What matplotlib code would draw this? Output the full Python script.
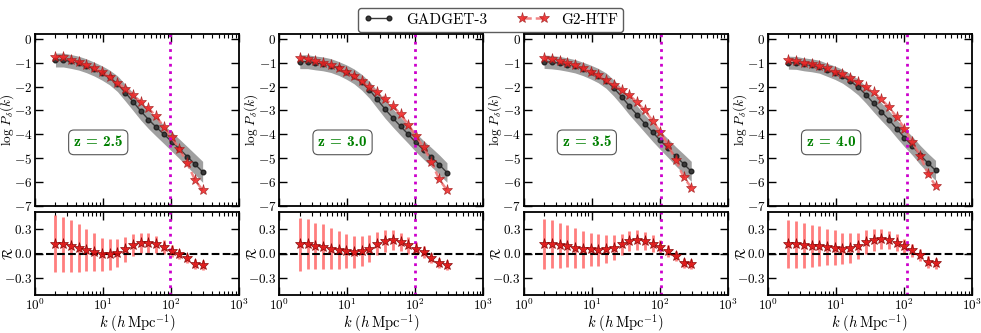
import matplotlib
matplotlib.use("Agg")
import matplotlib.pyplot as plt
from matplotlib.ticker import FuncFormatter, MultipleLocator

plt.rcParams['font.family'] = 'cmr10'
plt.rcParams['mathtext.fontset'] = 'cm'
plt.rcParams['axes.formatter.use_mathtext'] = True
plt.rcParams['axes.unicode_minus'] = True

# k bins (h/Mpc)
k = [2.0, 2.6, 3.38, 4.39, 5.71, 7.43, 9.65, 12.5, 16.3, 21.2,
     27.6, 35.8, 46.6, 60.6, 78.8, 102, 133, 173, 225, 292]

redshifts = ["2.5", "3.0", "3.5", "4.0"]
k_cut = [96, 100, 105, 110]

# log P(k), GADGET-3
gadget = [
    [-0.89, -0.89, -0.95, -1.02, -1.13, -1.27, -1.43, -1.62, -1.88, -2.25,
     -2.63, -3.02, -3.38, -3.70, -4.00, -4.30, -4.61, -4.93, -5.25, -5.57],
    [-0.96, -0.96, -1.01, -1.05, -1.12, -1.24, -1.39, -1.57, -1.82, -2.14,
     -2.54, -2.94, -3.31, -3.66, -4.00, -4.34, -4.66, -4.96, -5.27, -5.60],
    [-0.96, -0.98, -1.02, -1.08, -1.15, -1.26, -1.39, -1.54, -1.75, -2.06,
     -2.42, -2.81, -3.18, -3.55, -3.91, -4.25, -4.58, -4.92, -5.23, -5.55],
    [-1.00, -1.01, -1.07, -1.11, -1.17, -1.30, -1.42, -1.57, -1.78, -2.02,
     -2.34, -2.70, -3.05, -3.39, -3.77, -4.14, -4.48, -4.86, -5.20, -5.51],
]

# half-width of grey band
band = [
    [0.29, 0.29, 0.29, 0.29, 0.29, 0.29, 0.30, 0.31, 0.33, 0.35,
     0.37, 0.38, 0.38, 0.38, 0.39, 0.40, 0.41, 0.42, 0.43, 0.44],
    [0.29, 0.29, 0.29, 0.29, 0.29, 0.29, 0.30, 0.31, 0.33, 0.35,
     0.37, 0.38, 0.38, 0.38, 0.38, 0.39, 0.39, 0.40, 0.41, 0.41],
    [0.28, 0.28, 0.28, 0.28, 0.28, 0.28, 0.29, 0.30, 0.32, 0.34,
     0.36, 0.37, 0.37, 0.37, 0.38, 0.38, 0.39, 0.40, 0.41, 0.42],
    [0.27, 0.27, 0.27, 0.27, 0.27, 0.27, 0.28, 0.29, 0.31, 0.33,
     0.35, 0.36, 0.37, 0.37, 0.38, 0.38, 0.39, 0.40, 0.41, 0.42],
]

# log P(k), G2-HTF
htf = [
    [-0.75, -0.78, -0.90, -0.97, -1.09, -1.23, -1.38, -1.60, -1.84, -2.09,
     -2.36, -2.63, -2.91, -3.25, -3.70, -4.13, -4.61, -5.20, -5.91, -6.34],
    [-0.82, -0.83, -0.92, -1.00, -1.09, -1.23, -1.38, -1.54, -1.78, -2.02,
     -2.23, -2.50, -2.81, -3.16, -3.59, -4.07, -4.55, -5.16, -5.89, -6.33],
    [-0.82, -0.86, -0.94, -1.01, -1.11, -1.23, -1.37, -1.52, -1.72, -1.95,
     -2.13, -2.36, -2.66, -3.00, -3.43, -3.89, -4.44, -5.07, -5.78, -6.23],
    [-0.89, -0.93, -1.00, -1.05, -1.13, -1.24, -1.37, -1.48, -1.65, -1.83,
     -2.02, -2.24, -2.53, -2.87, -3.29, -3.76, -4.34, -4.89, -5.64, -6.16],
]

# ratio R and its error
ratio = [
    [0.12, 0.11, 0.09, 0.07, 0.04, 0.02, -0.01, -0.01, 0.01, 0.05,
     0.10, 0.13, 0.13, 0.11, 0.08, 0.03, -0.01, -0.06, -0.13, -0.14],
    [0.11, 0.11, 0.09, 0.08, 0.06, 0.04, 0.03, 0.02, 0.03, 0.06,
     0.12, 0.15, 0.16, 0.14, 0.10, 0.06, 0.02, -0.05, -0.12, -0.14],
    [0.11, 0.11, 0.10, 0.09, 0.07, 0.05, 0.05, 0.04, 0.05, 0.07,
     0.11, 0.15, 0.16, 0.15, 0.12, 0.08, 0.03, -0.03, -0.11, -0.13],
    [0.11, 0.11, 0.10, 0.09, 0.09, 0.08, 0.07, 0.06, 0.07, 0.09,
     0.14, 0.16, 0.17, 0.16, 0.13, 0.09, 0.04, -0.02, -0.10, -0.12],
]
ratio_err = [
    [0.34, 0.33, 0.31, 0.29, 0.25, 0.23, 0.20, 0.19, 0.17, 0.15,
     0.13, 0.12, 0.12, 0.10, 0.08, 0.07, 0.06, 0.06, 0.06, 0.06],
    [0.32, 0.30, 0.28, 0.27, 0.25, 0.23, 0.21, 0.19, 0.18, 0.16,
     0.14, 0.13, 0.12, 0.11, 0.10, 0.08, 0.07, 0.06, 0.06, 0.06],
    [0.30, 0.29, 0.27, 0.25, 0.24, 0.22, 0.20, 0.19, 0.17, 0.15,
     0.13, 0.12, 0.12, 0.11, 0.10, 0.08, 0.07, 0.06, 0.06, 0.06],
    [0.29, 0.28, 0.27, 0.25, 0.24, 0.22, 0.21, 0.19, 0.18, 0.16,
     0.14, 0.13, 0.12, 0.11, 0.10, 0.09, 0.08, 0.07, 0.07, 0.07],
]

fig = plt.figure(figsize=(9.81, 3.33), dpi=100)

W = 204 / 981
pitch = 244.3 / 981
x0 = 35 / 981


def style_axis(ax):
    ax.set_xscale('log')
    ax.set_xlim(1, 1000)
    ax.tick_params(which='both', direction='in', top=True, right=True,
                   labelsize=9.5, pad=2)
    ax.tick_params(which='major', length=6, width=1)
    ax.tick_params(which='minor', length=3, width=0.8)
    for s in ax.spines.values():
        s.set_linewidth(1.3)


for i in range(4):
    left = x0 + i * pitch
    ax = fig.add_axes([left, 1 - 206 / 333, W, 172 / 333])
    axr = fig.add_axes([left, 1 - 295 / 333, W, 83 / 333])

    lo = [g - b for g, b in zip(gadget[i], band[i])]
    hi = [g + b for g, b in zip(gadget[i], band[i])]
    ax.fill_between(k, lo, hi, color='#808080', alpha=0.75, lw=0)
    l1, = ax.plot(k, gadget[i], '-o', color='#3a3a3a', lw=1, ms=3.3,
                  mec='#222222', label='GADGET-3')
    l2, = ax.plot(k, htf[i], '--*', color='#f07070', lw=1.8, ms=8,
                  mfc='#ee2020', mec='#a02020', mew=0.5, alpha=0.85,
                  label='G2-HTF')
    ax.axvline(k_cut[i], color='#cc00cc', ls=':', lw=2)
    style_axis(ax)
    ax.set_ylim(-7, 0.2)
    ax.yaxis.set_major_locator(MultipleLocator(1))
    ax.tick_params(labelbottom=False)
    ax.set_ylabel(r'$\log\,P_\delta(k)$', fontsize=9.5)
    ax.yaxis.set_label_coords(-0.095, 0.5)
    ax.text(0.31, 0.37, 'z = ' + redshifts[i], family='cmb10',
            transform=ax.transAxes, ha='center', va='center', color='green',
            fontsize=11,
            bbox=dict(boxstyle='round,pad=0.35', fc='white', ec='#555555', lw=0.8))

    axr.errorbar(k, ratio[i], yerr=ratio_err[i], fmt='*', color='#dd1111',
                 ms=8, mec='#800000', mew=0.5, ecolor='#ff7070', elinewidth=2,
                 alpha=0.9, capsize=0)
    axr.axhline(0, color='k', ls='--', lw=1.5)
    axr.axvline(k_cut[i], color='#cc00cc', ls=':', lw=2)
    style_axis(axr)
    axr.set_ylim(-0.5, 0.5)
    axr.yaxis.set_major_locator(MultipleLocator(0.3))
    axr.yaxis.set_major_formatter(FuncFormatter(lambda v, p: r'$%.1f$' % v))
    axr.set_ylabel(r'$\mathcal{R}$', fontsize=9.5)
    axr.yaxis.set_label_coords(-0.095, 0.5)
    axr.set_xlabel(r'$k\ (h\,\mathrm{Mpc}^{-1})$', fontsize=10.5, labelpad=-1)

fig.legend(handles=[l1, l2], loc='upper center', bbox_to_anchor=(0.5, 1.0),
           ncol=2, fontsize=11, frameon=True, fancybox=True, edgecolor='#333333',
           numpoints=2, handlelength=2.0, columnspacing=2.0, borderpad=0.35)

fig.savefig('out.png', dpi=100)
